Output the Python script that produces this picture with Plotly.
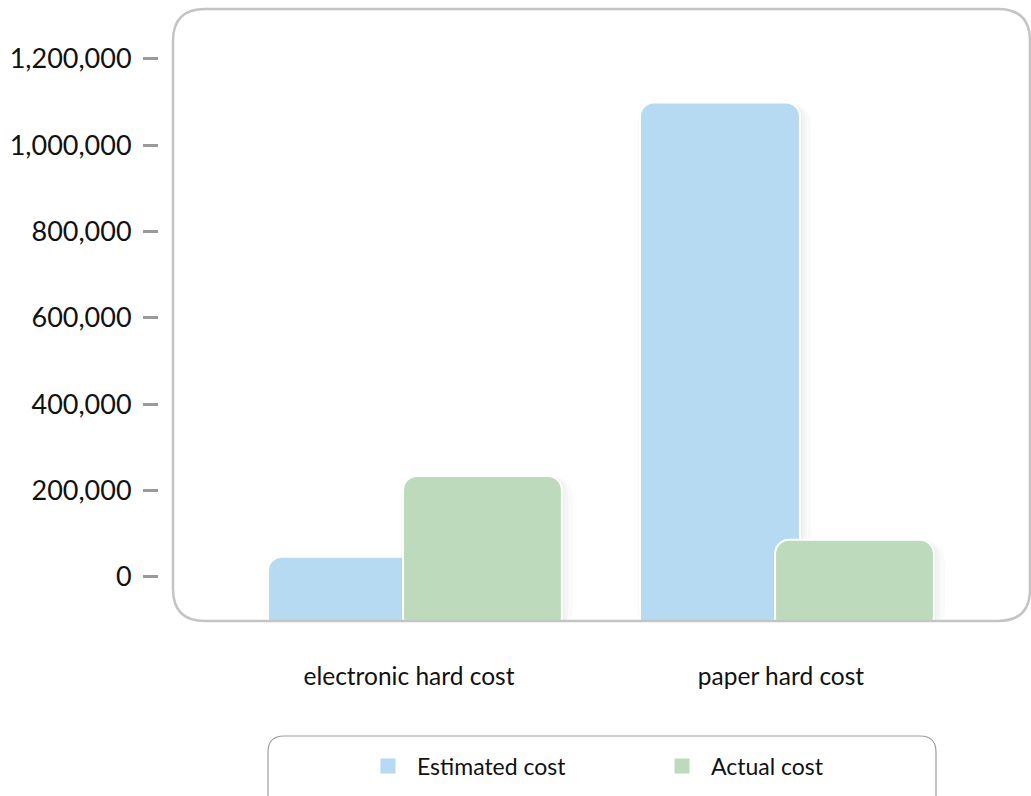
import plotly.graph_objects as go

categories = ["electronic hard cost", "paper hard cost"]
estimated_cost = [47000, 1099000]
actual_cost = [234000, 86000]
series_names = ["Estimated cost", "Actual cost"]
series_colors = ["#B6DAF2", "#BDDABC"]
y_tick_values = [0, 200000, 400000, 600000, 800000, 1000000, 1200000]

W, H = 1031, 796
ML, MR, MT, MB = 158, 0, 8, 174
PW, PH = W - ML - MR, H - MT - MB

Y_MIN, Y_MAX = -104250, 1318000
BASE = Y_MIN * 1.2

def px_x(p):
    return (p - ML) / PW

def px_y(p):
    return (H - MB - p) / PH

def rounded_rect(x0, y0, x1, y1, r):
    rx, ry = r / PW, r / PH
    X0, X1 = px_x(x0), px_x(x1)
    YT, YB = px_y(y0), px_y(y1)
    return (f"M{X0+rx},{YT} L{X1-rx},{YT} Q{X1},{YT} {X1},{YT-ry} "
            f"L{X1},{YB+ry} Q{X1},{YB} {X1-rx},{YB} L{X0+rx},{YB} "
            f"Q{X0},{YB} {X0},{YB+ry} L{X0},{YT-ry} Q{X0},{YT} {X0+rx},{YT} Z")

xpos = list(range(len(categories)))
font_family = "Lato, 'Open Sans', sans-serif"

series = [
    (series_names[0], estimated_cost, series_colors[0], -0.379, 0.43),
    (series_names[1], actual_cost, series_colors[1], -0.016, 0.427),
]

shadow_layers = [(0.034, "rgba(0,0,0,0.018)", 22), (0.020, "rgba(0,0,0,0.025)", 18),
                 (0.010, "rgba(0,0,0,0.03)", 15)]

fig = go.Figure()
for name, vals, color, off, wid in series:
    for extra, scol, crad in shadow_layers:
        fig.add_trace(go.Bar(
            x=xpos, y=[v - BASE for v in vals], base=BASE,
            offset=off - 0.004, width=wid + extra,
            marker=dict(color=scol, line=dict(width=0), cornerradius=crad),
            showlegend=False, hoverinfo="skip",
        ))
    fig.add_trace(go.Bar(
        name=name, x=xpos, y=[v - BASE for v in vals], base=BASE,
        offset=off, width=wid,
        marker=dict(color=color, line=dict(color="white", width=2), cornerradius=14),
        customdata=vals, hovertemplate="%{customdata:,}<extra>" + name + "</extra>",
        showlegend=False,
    ))

# legend entries
for name, color in zip(series_names, series_colors):
    fig.add_trace(go.Scatter(
        x=[None], y=[None], mode="markers", name=name,
        marker=dict(symbol="square", size=15, color=color),
        showlegend=True,
    ))

fig.update_layout(
    width=W, height=H,
    margin=dict(l=ML, r=MR, t=MT, b=MB, pad=0),
    paper_bgcolor="white", plot_bgcolor="white",
    barmode="overlay",
    font=dict(family=font_family, color="#111111"),
    xaxis=dict(
        domain=[px_x(172), 1], range=[-0.637, 1.672],
        tickmode="array", tickvals=xpos, ticktext=categories,
        showgrid=False, zeroline=False, showline=False, ticks="",
        tickfont=dict(size=24.5, color="#111111"), ticklabelstandoff=37,
    ),
    yaxis=dict(
        anchor="free", position=0, range=[Y_MIN, Y_MAX],
        tickmode="array", tickvals=y_tick_values,
        ticktext=[f"{v:,}" for v in y_tick_values],
        showgrid=False, zeroline=False, showline=False,
        ticks="outside", ticklen=15, tickwidth=3, tickcolor="#9A9A9A",
        tickfont=dict(size=27, color="#111111"), ticklabelstandoff=6,
    ),
    showlegend=True,
    legend=dict(
        orientation="h", x=px_x(359), xanchor="left", y=px_y(766), yanchor="middle",
        font=dict(size=23, color="#111111"), bgcolor="rgba(0,0,0,0)",
        borderwidth=0, entrywidth=231, traceorder="normal", itemwidth=48,
    ),
    shapes=[
        dict(type="path", xref="paper", yref="paper", layer="above",
             path=rounded_rect(173, 9, 1030, 621, 32),
             line=dict(color="#C4C4C4", width=2.5)),
        dict(type="path", xref="paper", yref="paper", layer="above",
             path=rounded_rect(268, 736, 936, 812, 16),
             line=dict(color="#9E9E9E", width=1.2)),
    ],
)

fig.write_html("out.html")
